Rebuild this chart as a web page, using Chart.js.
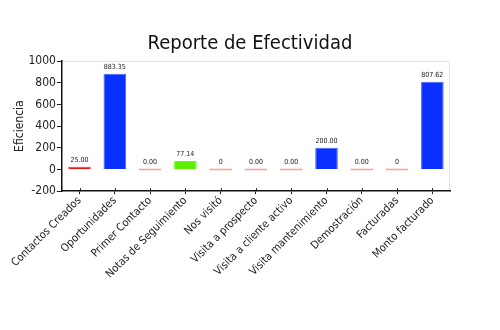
<!DOCTYPE html>
<html>
<head>
<meta charset="utf-8">
<script src="https://cdn.jsdelivr.net/npm/chart.js@4/dist/chart.umd.min.js"></script>
<style>
  html, body { margin: 0; padding: 0; background: #fff; }
  #wrap { width: 500px; height: 330px; }
</style>
</head>
<body>
<div id="wrap"><canvas id="chart"></canvas></div>
<script>
// categories (x axis)
const categories = [
    "Contactos Creados", "Oportunidades", "Primer Contacto", "Notas de Seguimiento",
    "Nos visitó", "Visita a prospecto", "Visita a cliente activo", "Visita mantenimiento",
    "Demostración", "Facturadas", "Monto facturado"
];
// bar values (eficiencia)
const values = [25, 883.35, 0, 77.14, 0, 0, 0, 200, 0, 0, 807.62];
// text shown above each bar
const valueLabels = ["25.00", "883.35", "0.00", "77.14", "0", "0.00", "0.00", "200.00", "0.00", "0", "807.62"];
const chartTitle = "Reporte de Efectividad";
// y axis range / ticks
const yMin = -200;
const yMax = 1000;
const yStep = 100; // minor ticks every 100, labels every 200

const FONT = "'DejaVu Sans Condensed', 'DejaVu Sans', sans-serif";

function barColor(v) {
    if (v === 0) return "rgba(255, 60, 60, 0.55)";
    if (v < 50) return "#f51010";
    if (v < 100) return "#5cf000";
    return "#0a30ff";
}
function barBorder(v) {
    if (v === 0) return "rgba(255, 60, 60, 0.55)";
    if (v < 50) return "#ff3030";
    if (v < 100) return "#6cff10";
    return "#4466ff";
}

// draws the title centred on the page, the value text above bars,
// the light frame of the plot and tick marks above the x axis
const extrasPlugin = {
    id: "extras",
    beforeDraw(chart) {
        const a = chart.chartArea;
        const ctx = chart.ctx;
        ctx.save();
        ctx.strokeStyle = "#e2e2e2";
        ctx.lineWidth = 1;
        ctx.beginPath();
        ctx.moveTo(a.left, a.top + 0.5);
        ctx.lineTo(a.right - 0.5, a.top + 0.5);
        ctx.lineTo(a.right - 0.5, a.bottom);
        ctx.stroke();

        ctx.font = "20px " + FONT;
        ctx.fillStyle = "#111";
        ctx.textAlign = "center";
        ctx.textBaseline = "middle";
        ctx.fillText(chartTitle, chart.width / 2, 44);
        ctx.restore();
    },
    afterDatasetsDraw(chart) {
        const ctx = chart.ctx;
        const meta = chart.getDatasetMeta(0);
        ctx.save();
        ctx.font = "7px " + FONT;
        ctx.fillStyle = "#222";
        ctx.textAlign = "center";
        ctx.textBaseline = "bottom";
        meta.data.forEach((bar, i) => {
            const top = Math.min(bar.y, bar.base);
            ctx.fillText(valueLabels[i], bar.x, top - 3);
        });
        ctx.restore();
    },
    afterDraw(chart) {
        const ctx = chart.ctx;
        const x = chart.scales.x;
        const a = chart.chartArea;
        ctx.save();
        ctx.strokeStyle = "#222";
        ctx.lineWidth = 1;
        for (let i = 0; i < categories.length; i++) {
            const px = Math.round(x.getPixelForValue(i)) + 0.5;
            ctx.beginPath();
            ctx.moveTo(px, a.bottom - 3);
            ctx.lineTo(px, a.bottom);
            ctx.stroke();
        }
        ctx.restore();
    }
};

new Chart(document.getElementById("chart"), {
    type: "bar",
    data: {
        labels: categories,
        datasets: [{
            label: "Eficiencia",
            data: values,
            backgroundColor: ctx => barColor(values[ctx.dataIndex]),
            borderColor: ctx => barBorder(values[ctx.dataIndex]),
            borderWidth: 1,
            minBarLength: 2,
            barPercentage: 0.8,
            categoryPercentage: 0.8
        }]
    },
    options: {
        responsive: true,
        maintainAspectRatio: false,
        animation: false,
        layout: { padding: { top: 61, right: 50, bottom: 49, left: 9 } },
        plugins: {
            legend: { display: false },
            tooltip: { enabled: false },
            title: { display: false }
        },
        scales: {
            x: {
                grid: {
                    drawOnChartArea: false,
                    offset: false,
                    color: "#222",
                    tickLength: 3
                },
                border: { color: "#111", width: 1.5 },
                ticks: {
                    color: "#222",
                    font: { family: FONT, size: 11 },
                    minRotation: 45,
                    maxRotation: 45,
                    padding: 0,
                    autoSkip: false
                }
            },
            y: {
                min: yMin,
                max: yMax,
                ticks: {
                    stepSize: yStep,
                    color: "#222",
                    font: { family: FONT, size: 12 },
                    padding: 1,
                    callback: v => (v % 200 === 0 ? v : "")
                },
                grid: {
                    drawOnChartArea: false,
                    tickLength: 5,
                    color: ctx => (ctx.tick && ctx.tick.value % 200 !== 0 ? "#ff6060" : "#222")
                },
                border: { color: "#111", width: 1.5 },
                title: {
                    display: true,
                    text: "Eficiencia",
                    color: "#222",
                    font: { family: FONT, size: 12 },
                    padding: { top: 4, bottom: 0 }
                }
            }
        }
    },
    plugins: [extrasPlugin]
});
</script>
</body>
</html>
